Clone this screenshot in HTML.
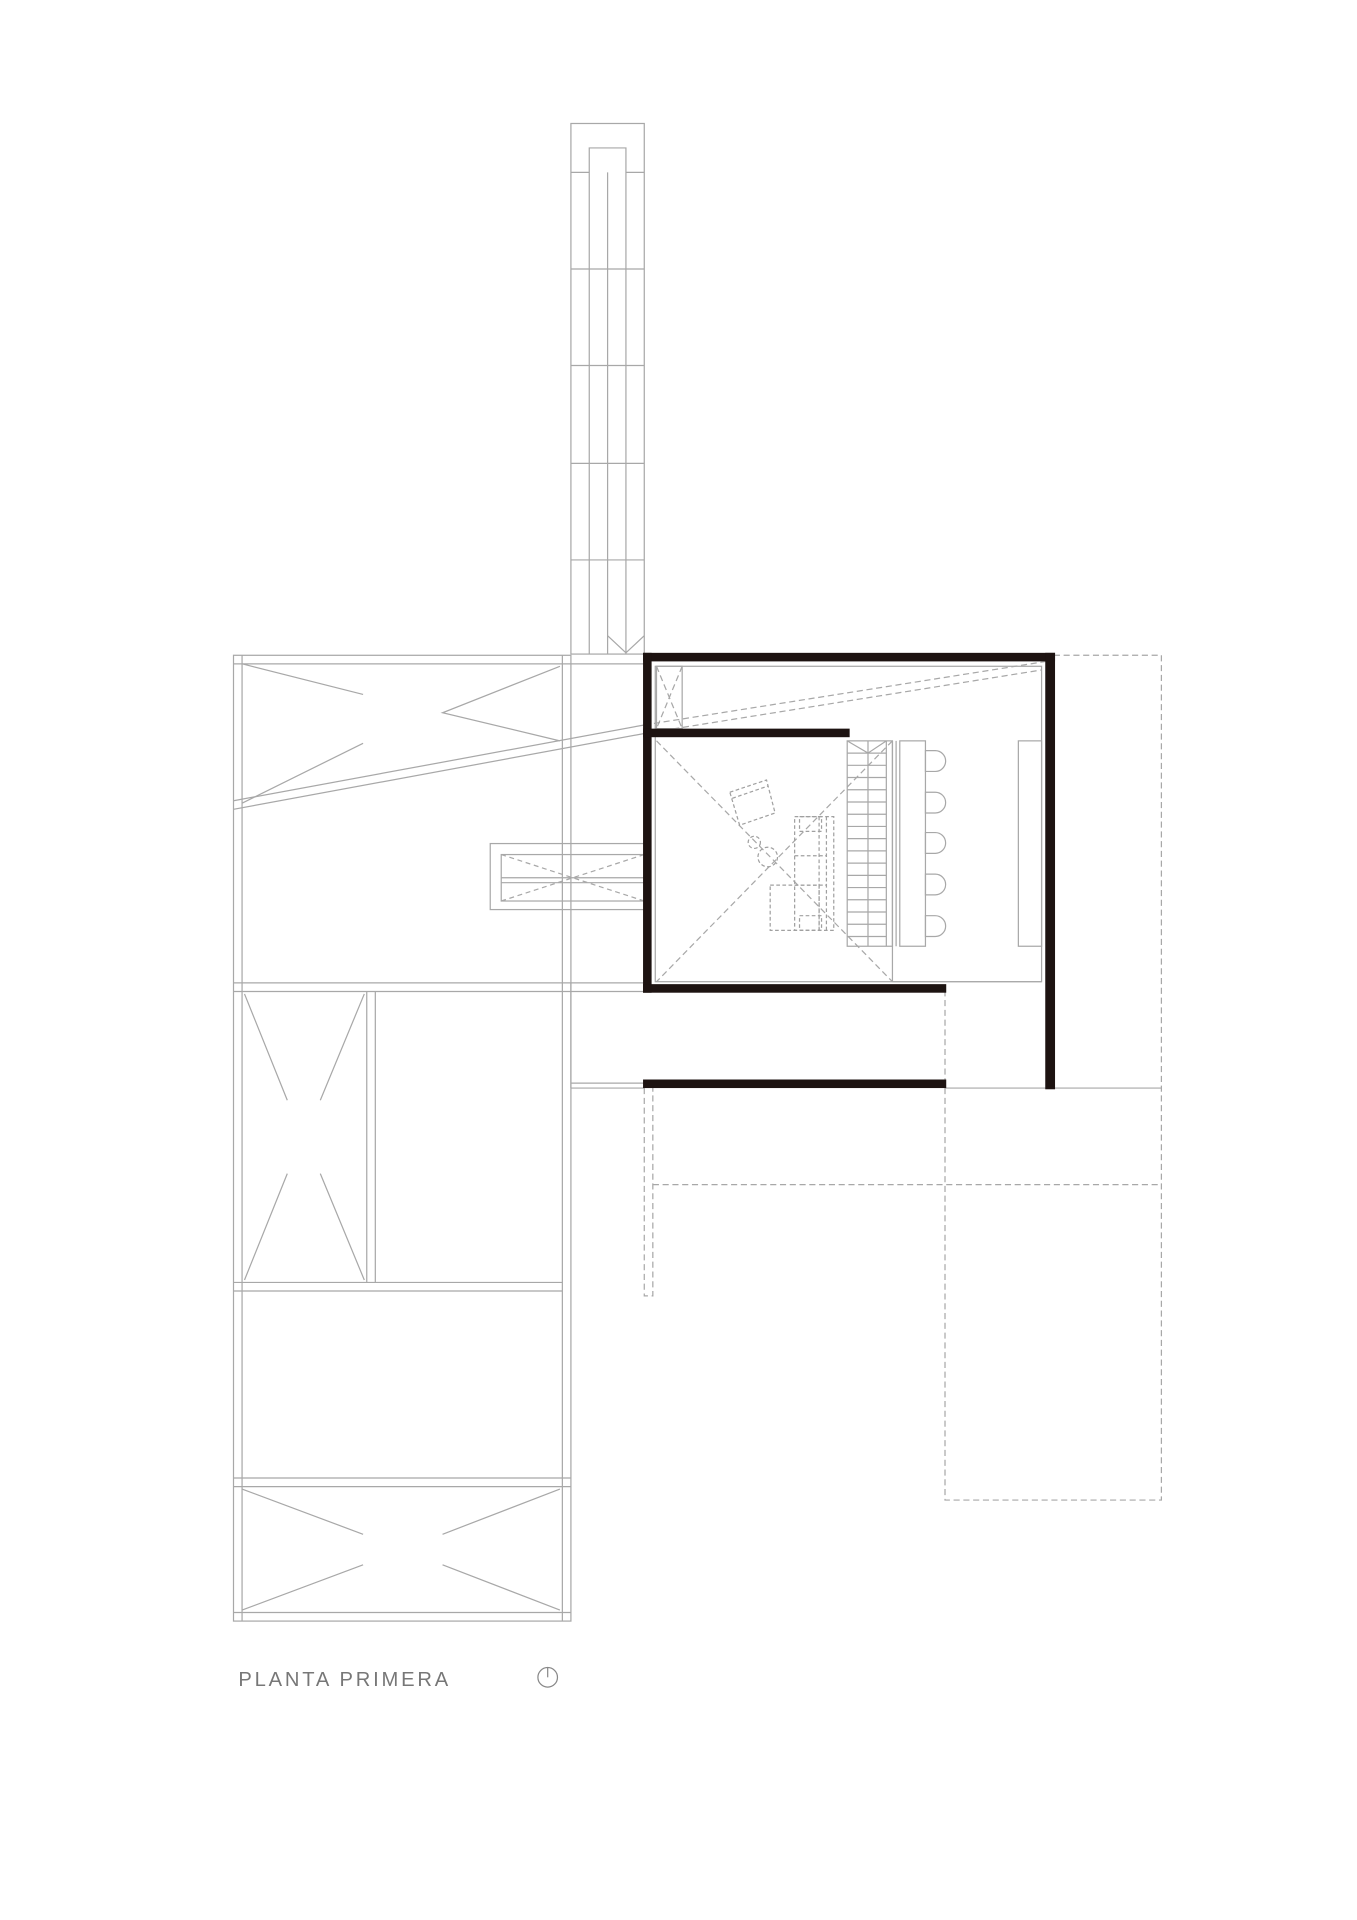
<!DOCTYPE html>
<html><head><meta charset="utf-8"><style>
html,body{margin:0;padding:0;background:#fff}
svg{display:block}
</style></head><body>
<svg width="1357" height="1920" viewBox="0 0 1110 1570.5" xmlns="http://www.w3.org/2000/svg">
<g fill="none" stroke="#a8a8a8" stroke-width="1">
<rect x="467" y="101" width="60" height="434"/>
<path d="M482 535V121H512V535M497 141V535M467 141H482M512 141H527M467 220H527M467 299H527M467 379H527M467 458H527"/>
<path d="M497 520L512 534L527 520"/>
<rect x="191" y="536" width="276" height="790"/>
<path d="M198 536V1326M460 536V1326M191 543H527M191 804H527M191 811H527M191 1049H460M191 1056H460M191 1209H467M191 1216H467M191 1319H467"/>
<path d="M467 804V890M467 886H527M467 890H527"/>
<path d="M198 543L297 568M458 545L362 583L458 606M198 657L297 608"/>
<path d="M191 655L527 593M191 662L527 600"/>
<path d="M300 811V1049M307 811V1049"/>
<path d="M200 813L235 900M298 813L262 900M200 1047L235 960M298 1047L262 960"/>
<path d="M198 1218L297 1255M458 1218L362 1255M198 1317L297 1280M458 1317L362 1280"/>
<rect x="401" y="690" width="126" height="54"/>
<rect x="410" y="699" width="117" height="38"/>
<path d="M410 718H527M410 722H527"/>
<path d="M410 699L527 737M410 737L527 699" stroke-dasharray="4 3"/>
</g>
<g fill="none" stroke="#a8a8a8" stroke-width="1" stroke-dasharray="5 3">
<path d="M527 593L862 540M527 600L852 548"/>
<path d="M537 545L558 596M558 545L537 596"/>
<path d="M537 606L730 803M730 606L537 803"/>
<path d="M862 536H950V1227H773V808M534 969H950"/>
<path d="M527 890V1060H534V890"/>
</g>
<g fill="none" stroke="#a8a8a8" stroke-width="1">
<rect x="536" y="545" width="316" height="258"/>
<rect x="537" y="545" width="21" height="51"/>
<path d="M730 606V803M730 803H852M773 890H950"/>
<rect x="693" y="606" width="37" height="168"/>
<path d="M710 606V774M725 606V774"/>
<path d="M693 606L710 616L725 606"/>
<path d="M693 616H725M693 626H725M693 636H725M693 646H725M693 656H725M693 666H725M693 676H725M693 686H725M693 696H725M693 706H725M693 716H725M693 726H725M693 736H725M693 746H725M693 756H725M693 766H725"/>
<rect x="736" y="606" width="21" height="168"/>
<path d="M733 606V774"/>
<path d="M757 614H765A8 8 0 0 1 765 631H757Z"/>
<path d="M757 648H765A8 8 0 0 1 765 665H757Z"/>
<path d="M757 681H765A8 8 0 0 1 765 698H757Z"/>
<path d="M757 715H765A8 8 0 0 1 765 732H757Z"/>
<path d="M757 749H765A8 8 0 0 1 765 766H757Z"/>
<rect x="833" y="606" width="19" height="168"/>
</g>
<g fill="none" stroke="#a0a0a0" stroke-width="1" stroke-dasharray="3 2">
<path d="M597 648L627 638L634 665L605 675Z"/>
<path d="M599 653L628 643"/>
<rect x="650" y="668" width="32" height="93"/>
<path d="M676 668V761M670 668V761M650 700H676M650 724H676"/>
<rect x="630" y="724" width="40" height="37"/>
<rect x="654" y="668" width="18" height="12"/>
<rect x="654" y="749" width="18" height="12"/>
<circle cx="617" cy="689" r="5"/>
<circle cx="628" cy="701" r="8"/>
</g>
<g fill="#1d1311">
<rect x="526" y="534" width="337" height="7"/>
<rect x="526" y="534" width="7" height="278"/>
<rect x="855" y="534" width="8" height="357"/>
<rect x="526" y="596" width="169" height="7"/>
<rect x="526" y="805" width="248" height="7"/>
<rect x="526" y="883" width="248" height="7"/>
</g>
<text x="195" y="1379" font-family="Liberation Sans, sans-serif" font-size="16.5" fill="#777" letter-spacing="2.3">PLANTA  PRIMERA</text>
<circle cx="448" cy="1372" r="8" fill="none" stroke="#888" stroke-width="1"/>
<path d="M448 1364V1372" stroke="#888" stroke-width="1"/>
</svg>
</body></html>
